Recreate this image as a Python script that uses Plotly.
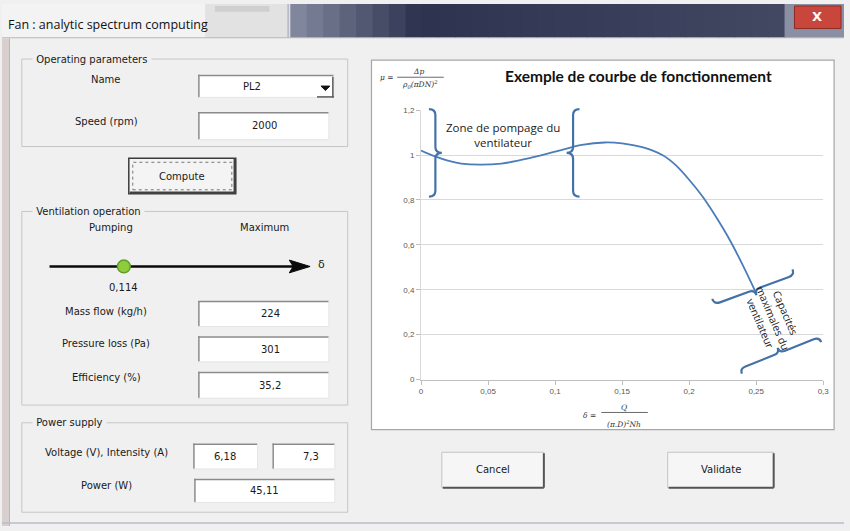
import math
import plotly.graph_objects as go

# ---------------- data ----------------
delta = [0, 0.01, 0.02, 0.03, 0.044, 0.06, 0.08, 0.1, 0.12, 0.137, 0.15, 0.165,
         0.18, 0.19, 0.2, 0.21, 0.22, 0.23, 0.24, 0.25]
mu = [1.02, 0.995, 0.975, 0.962, 0.957, 0.962, 0.985, 1.015, 1.045, 1.056, 1.052, 1.035,
      1.0, 0.955, 0.89, 0.815, 0.725, 0.625, 0.51, 0.385]

x_tickvals = [0, 0.05, 0.1, 0.15, 0.2, 0.25, 0.3]
x_ticktext = ["0", "0,05", "0,1", "0,15", "0,2", "0,25", "0,3"]
y_tickvals = [0, 0.2, 0.4, 0.6, 0.8, 1.0, 1.2]
y_ticktext = ["0", "0,2", "0,4", "0,6", "0,8", "1", "1,2"]

window_title = "Fan : analytic spectrum computing"
chart_title = "Exemple de courbe de fonctionnement"
zone_label = "Zone de pompage du<br>ventilateur"
capa_label = "Capacités<br>maximales du<br>ventilateur"

op_name = "PL2"
op_speed = "2000"
delta_value = "0,114"
mass_flow = "224"
pressure_loss = "301"
efficiency = "35,2"
voltage = "6,18"
intensity = "7,3"
power = "45,11"

# ---------------- helpers (pixel -> paper) ----------------
W, H = 850, 531
shapes = []
annotations = []


def X(px):
    return px / W


def Y(py):
    return 1 - py / H


def rect(x0, y0, x1, y1, fill="rgba(0,0,0,0)", lc="rgba(0,0,0,0)", lw=0, layer="below"):
    shapes.append(dict(type="rect", xref="paper", yref="paper", x0=X(x0), x1=X(x1),
                       y0=Y(y1), y1=Y(y0), fillcolor=fill,
                       line=dict(color=lc, width=lw), layer=layer))


def seg(x0, y0, x1, y1, color, width=1, dash="solid", layer="below"):
    shapes.append(dict(type="line", xref="paper", yref="paper", x0=X(x0), x1=X(x1),
                       y0=Y(y0), y1=Y(y1), line=dict(color=color, width=width, dash=dash),
                       layer=layer))


def pt(p):
    return f"{X(p[0]):.5f},{Y(p[1]):.5f}"


def brace(p1, p2, d, color="#4472a8", width=2.2, r=6):
    # curly brace from p1 to p2, tip at distance d on the normal side
    ux, uy = p2[0] - p1[0], p2[1] - p1[1]
    L = math.hypot(ux, uy)
    ux, uy = ux / L, uy / L
    nx, ny = uy, -ux
    mx, my = (p1[0] + p2[0]) / 2, (p1[1] + p2[1]) / 2
    h = d / 2

    def P(bx, by, a, b):
        return (bx + ux * a + nx * b, by + uy * a + ny * b)

    s = "M " + pt(p1)
    s += " Q " + pt(P(p1[0], p1[1], 0, h)) + " " + pt(P(p1[0], p1[1], r, h))
    s += " L " + pt(P(mx, my, -r, h))
    s += " Q " + pt(P(mx, my, 0, h)) + " " + pt(P(mx, my, 0, d))
    s += " Q " + pt(P(mx, my, 0, h)) + " " + pt(P(mx, my, r, h))
    s += " L " + pt(P(p2[0], p2[1], -r, h))
    s += " Q " + pt(P(p2[0], p2[1], 0, h)) + " " + pt(p2)
    shapes.append(dict(type="path", xref="paper", yref="paper", path=s,
                       line=dict(color=color, width=width), layer="above"))


def text(x, y, s, size=11, color="#1a1a1a", anchor="center", family="DejaVu Sans",
         bg=None, angle=0, yanchor="middle"):
    a = dict(xref="paper", yref="paper", x=X(x), y=Y(y), text=s, showarrow=False,
             xanchor=anchor, yanchor=yanchor, textangle=angle,
             font=dict(size=size, color=color, family=family), borderpad=0)
    if bg:
        a["bgcolor"] = bg
    annotations.append(a)


UI = "DejaVu Sans"
UIS = 10

# ---------------- window chrome ----------------
rect(0, 0, 850, 34, fill="#f3f3f3")
rect(205, 0, 290, 34, fill="#e2e2e2")
rect(215, 2, 270, 8, fill="#cfcfcf")
seg(289, 0, 289, 34, "#b9bcc6", 2)
c0 = (128, 134, 156)
c1 = (46, 51, 80)
c2 = (66, 71, 98)
n = 30
x_start, x_end = 291, 790
for i in range(n):
    t = i / (n - 1)
    if t < 0.25:
        s_ = t / 0.25
        c = tuple(int(c0[k] + (c1[k] - c0[k]) * s_) for k in range(3))
    else:
        s_ = (t - 0.25) / 0.75
        c = tuple(int(c1[k] + (c2[k] - c1[k]) * s_) for k in range(3))
    xa = x_start + (x_end - x_start) * i / n
    xb = x_start + (x_end - x_start) * (i + 1) / n + 1
    rect(xa, 0, xb, 34, fill=f"rgb{c}")
rect(790, 0, 850, 34, fill="#8b8fa3")
rect(800, 2, 847, 25, fill="#c8463c", lc="#8f2a22", lw=1)
text(823, 13, "<b>X</b>", size=13, color="white", family="DejaVu Sans")
text(5, 21, window_title, size=12.5, color="#111111", anchor="left", family="Open Sans")
seg(0, 34.5, 850, 34.5, "#a9a9a9", 1)
rect(0, 35, 850, 531, fill="#f0f0f0")
rect(0, 35, 7, 531, fill="#d9cfcf")
seg(7.5, 35, 7.5, 531, "#b4b4b4", 1)
seg(0, 528, 850, 528, "#b8bcc8", 1.5)

# ---------------- left panel ----------------
grp = "#c6c6c6"
rect(20, 56, 349, 145, lc=grp, lw=1)
text(30, 56, " Operating parameters ", size=UIS, anchor="left", family=UI, bg="#f0f0f0")
text(105, 77, "Name", size=UIS, family=UI)
text(105, 120, "Speed (rpm)", size=UIS, family=UI)


def tbox(x0, y0, x1, y1):
    rect(x0, y0, x1, y1, fill="white")
    seg(x0, y0 + 0.75, x1, y0 + 0.75, "#8a8a8a", 1.5)
    seg(x0 + 0.75, y0, x0 + 0.75, y1, "#8a8a8a", 1.5)
    seg(x0, y1, x1, y1, "#e4e4e4", 1)
    seg(x1, y0, x1, y1, "#e4e4e4", 1)


tbox(198, 72, 335, 95)
text(252, 84, op_name, size=UIS, family=UI)
seg(334, 74, 334, 95, "#5a5a5a", 1.5)
seg(318, 94.5, 335, 94.5, "#5a5a5a", 1.5)
shapes.append(dict(type="path", xref="paper", yref="paper",
                   path="M " + pt((322, 83.5)) + " L " + pt((331, 83.5)) + " L " + pt((326.5, 88)) + " Z",
                   fillcolor="#111111", line=dict(color="#111111", width=1), layer="below"))
tbox(198, 110, 330, 138)
text(265, 124, op_speed, size=UIS, family=UI)

rect(128, 157, 236, 193, fill="#f4f4f4", lc="#3c3c3c", lw=1.5)
seg(129, 192, 236, 192, "#404040", 2.5)
seg(235, 157, 235, 193, "#404040", 2.5)
rect(132, 161, 232, 189, lc="#777777", lw=1)
shapes[-1]["line"]["dash"] = "dot"
text(182, 175, "Compute", size=UIS, family=UI)

rect(20, 211, 349, 408, lc=grp, lw=1)
text(30, 211, " Ventilation operation ", size=UIS, anchor="left", family=UI, bg="#f0f0f0")
text(110, 227, "Pumping", size=UIS, family=UI)
text(265, 227, "Maximum", size=UIS, family=UI)
seg(48, 267, 296, 267, "#0a0a0a", 2.5)
shapes.append(dict(type="path", xref="paper", yref="paper",
                   path="M " + pt((290, 260.5)) + " L " + pt((311, 267)) + " L " + pt((290, 273.5)) + " L " + pt((294, 267)) + " Z",
                   fillcolor="#0a0a0a", line=dict(color="#0a0a0a", width=1), layer="below"))
shapes.append(dict(type="circle", xref="paper", yref="paper",
                   x0=X(116.5), x1=X(129.5), y0=Y(273.5), y1=Y(260.5),
                   fillcolor="#8fcc3c", line=dict(color="#5d9d2a", width=1.5), layer="below"))
text(323, 265, "δ", size=11, family=UI)
text(123, 288, delta_value, size=UIS, family=UI)

text(105, 313, "Mass flow (kg/h)", size=UIS, family=UI)
tbox(198, 302, 330, 328)
text(271, 315, mass_flow, size=UIS, family=UI)
text(105, 345, "Pressure loss (Pa)", size=UIS, family=UI)
tbox(198, 338, 330, 364)
text(271, 351, pressure_loss, size=UIS, family=UI)
text(105, 380, "Efficiency (%)", size=UIS, family=UI)
tbox(198, 374, 330, 401)
text(271, 388, efficiency, size=UIS, family=UI)

rect(20, 426, 349, 517, lc=grp, lw=1)
text(30, 426, " Power supply ", size=UIS, anchor="left", family=UI, bg="#f0f0f0")
text(105, 456, "Voltage (V), Intensity (A)", size=UIS, family=UI)
tbox(193, 447, 258, 473)
text(225, 460, voltage, size=UIS, family=UI)
tbox(273, 447, 336, 473)
text(312, 460, intensity, size=UIS, family=UI)
text(105, 490, "Power (W)", size=UIS, family=UI)
tbox(194, 483, 336, 507)
text(265, 495, power, size=UIS, family=UI)


def button(x0, y0, x1, y1, label):
    rect(x0, y0, x1, y1, fill="#f6f6f6", lc="#c4c4c4", lw=1)
    seg(x0 + 1, y1, x1, y1, "#555555", 2)
    seg(x1, y0 + 1, x1, y1, "#555555", 2)
    text((x0 + x1) / 2, (y0 + y1) / 2, label, size=UIS, family=UI)


button(444, 456, 547, 492, "Cancel")
button(672, 456, 779, 492, "Validate")

# ---------------- chart box ----------------
rect(373, 57, 840, 433, fill="white", lc="#a6a6a6", lw=1.2)
text(643, 73, "<b>" + chart_title + "</b>", size=15.5, color="#111111", family="Lato")

FF = "DejaVu Serif"
text(389, 75, "<i>μ</i> =", size=7.5, color="#333333", family=FF)
text(420, 68.5, "<i>Δp</i>", size=7.5, color="#333333", family=FF)
seg(399, 74.5, 446, 74.5, "#444444", 0.8)
text(422, 82, "<i>ρ<sub>0</sub>(πDN)<sup>2</sup></i>", size=7.5, color="#333333", family=FF)

text(593, 419, "<i>δ</i> =", size=7.5, color="#333333", family=FF)
text(628, 410, "<i>Q</i>", size=7.5, color="#333333", family=FF)
seg(605, 415.5, 652, 415.5, "#444444", 0.8)
text(628, 427, "<i>(π.D)<sup>2</sup>Nh</i>", size=7.5, color="#333333", family=FF)

text(506, 133, zone_label, size=11.5, color="#222222", family="Open Sans")
text(778, 319, capa_label, size=10.5, color="#222222", family="Open Sans", angle=67)

brace((431, 107), (431, 196), 13)
brace((583, 196), (583, 107), 13)
brace((798, 270), (717, 300), 12)
brace((747, 376), (827, 344), 11)

# ---------------- figure ----------------
fig = go.Figure()
fig.add_trace(go.Scatter(x=delta, y=mu, mode="lines",
                         line=dict(color="#4a7dba", width=1.8, shape="spline", smoothing=0.8),
                         hoverinfo="skip", showlegend=False))

fig.update_layout(
    width=W, height=H,
    margin=dict(l=0, r=0, t=0, b=0),
    paper_bgcolor="#f0f0f0",
    plot_bgcolor="rgba(0,0,0,0)",
    shapes=shapes,
    annotations=annotations,
    showlegend=False,
    xaxis=dict(domain=[423 / W, 829 / W], range=[0, 0.3], tickvals=x_tickvals,
               ticktext=x_ticktext, showgrid=False, zeroline=False, showline=True,
               linecolor="#bfbfbf", linewidth=1, ticks="outside", ticklen=4,
               tickcolor="#bfbfbf", tickfont=dict(size=8, color="#595959", family="Liberation Sans"),
               fixedrange=True),
    yaxis=dict(domain=[1 - 382 / H, 1 - 108 / H], range=[0, 1.2], tickvals=y_tickvals,
               ticktext=y_ticktext, showgrid=True, gridcolor="#d9d9d9", gridwidth=1,
               zeroline=False, showline=True, linecolor="#d9d9d9", linewidth=1,
               ticks="outside", ticklen=4, tickcolor="#bfbfbf",
               tickfont=dict(size=8, color="#595959", family="Liberation Sans"),
               fixedrange=True),
)

fig.write_html("out.html", config={"displayModeBar": False},
               post_script="document.body.style.margin='0';document.body.style.overflow='hidden';")
